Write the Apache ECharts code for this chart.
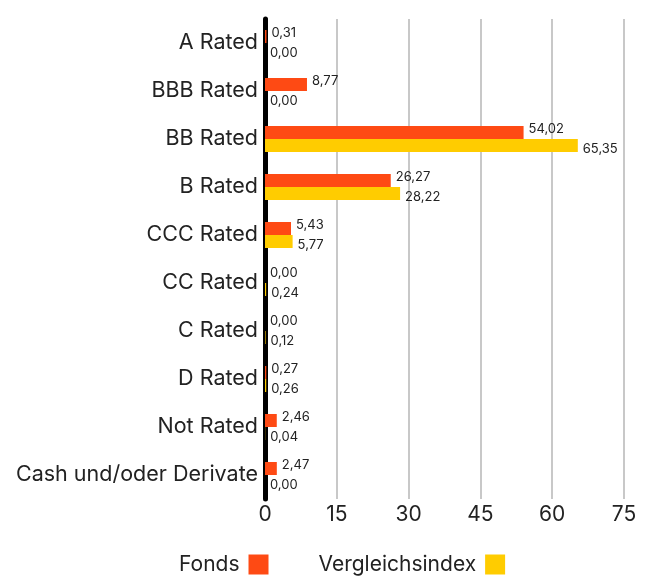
<!DOCTYPE html>
<html>
<head>
<meta charset="utf-8">
<script src="https://cdn.jsdelivr.net/npm/echarts@6/dist/echarts.min.js"></script>
<style>
  html, body { margin: 0; padding: 0; background: #fff; }
  #main { width: 653px; height: 581px; }
</style>
</head>
<body>
<div id="main"></div>
<script>
var categories = ["A Rated", "BBB Rated", "BB Rated", "B Rated", "CCC Rated", "CC Rated", "C Rated", "D Rated", "Not Rated", "Cash und/oder Derivate"];
var fonds = [0.31, 8.77, 54.02, 26.27, 5.43, 0.00, 0.00, 0.27, 2.46, 2.47];
var vergleich = [0.00, 0.00, 65.35, 28.22, 5.77, 0.24, 0.12, 0.26, 0.04, 0.00];
var xTicks = [0, 15, 30, 45, 60, 75];

var font = "Inter";
var myChart = echarts.init(document.getElementById("main"));

function fmt(p) {
  return p.value.toFixed(2).replace(".", ",");
}

var option = {
  textStyle: { fontFamily: font },
  animation: false,
  grid: { left: 265, right: 29, top: 19, bottom: 82, containLabel: false },
  legend: {
    bottom: 1,
    left: 174,
    align: "right",
    icon: "rect",
    itemWidth: 20,
    itemHeight: 20,
    itemGap: 50,
    textStyle: { fontSize: 21, color: "#222", fontFamily: font, padding: [0, 4, 0, 0] },
    data: ["Fonds", "Vergleichsindex"]
  },
  xAxis: {
    type: "value",
    min: xTicks[0],
    max: xTicks[xTicks.length - 1],
    interval: 15,
    axisLine: { show: false },
    axisTick: { show: false },
    axisLabel: { fontSize: 21, color: "#222", margin: 5 },
    splitLine: { lineStyle: { color: "#c8c8c8", width: 2 } }
  },
  yAxis: {
    type: "category",
    inverse: true,
    data: categories,
    axisLine: { show: true, lineStyle: { color: "#000", width: 5 } },
    axisTick: { show: false },
    axisLabel: { fontSize: 21.5, color: "#222", margin: 7 }
  },
  series: [
    {
      name: "Fonds",
      type: "bar",
      data: fonds,
      barWidth: 13,
      barGap: "0%",
      itemStyle: { color: "#fe4a14" },
      label: { show: true, position: "right", distance: 5, offset: [0, -3], formatter: fmt, fontSize: 13, color: "#222" }
    },
    {
      name: "Vergleichsindex",
      type: "bar",
      data: vergleich,
      barWidth: 13,
      itemStyle: { color: "#ffcc00" },
      label: { show: true, position: "right", distance: 5, offset: [0, 4], formatter: fmt, fontSize: 13, color: "#222" }
    }
  ]
};
myChart.setOption(option);
</script>
</body>
</html>
